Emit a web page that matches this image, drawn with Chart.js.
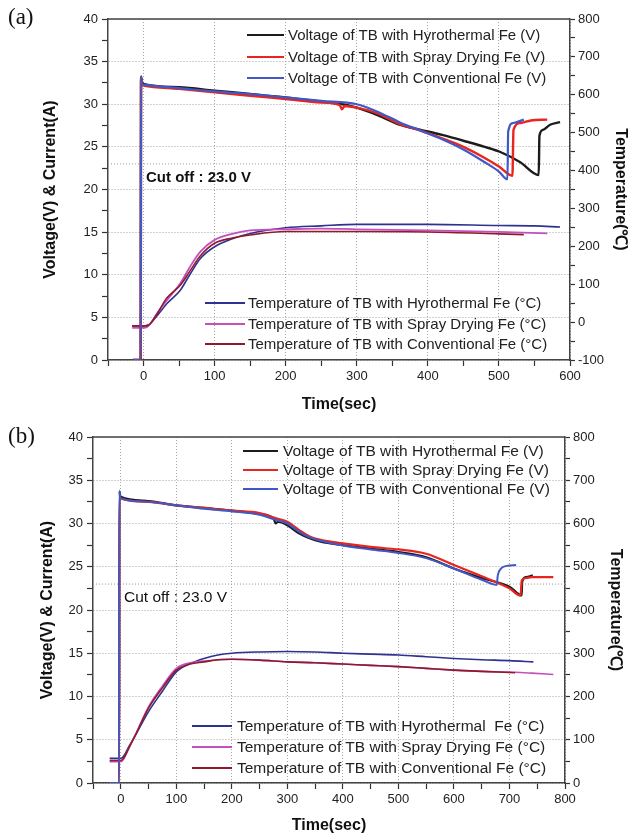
<!DOCTYPE html>
<html>
<head>
<title>Thermal battery discharge</title>
<script src="https://cdn.jsdelivr.net/npm/chart.js"></script>
<style>
    body {
        margin: 0;
        width: 636px;
        height: 838px;
        position: relative;
        overflow: hidden;
        background: #fff;
        font-family: 'Liberation Sans', Arial, sans-serif;
    }
    canvas { position: absolute; left: 0; }
    #chartA { top: 0; }
    #chartB { top: 420px; }
    .tag {
        position: absolute;
        font-family: 'Liberation Serif', 'Times New Roman', serif;
        font-size: 23px;
        line-height: 1;
        color: #111;
    }
    .note {
        position: absolute;
        font-size: 15px;
        line-height: 18px;
        color: #111;
        white-space: nowrap;
    }
    .legend-row {
        position: absolute;
        height: 20px;
        line-height: 20px;
        font-size: 15px;
        color: #222;
        white-space: pre;
    }
    .legend-row .swatch { position: absolute; left: 0; }
</style>
</head>
<body>
<canvas id="chartA" width="636" height="415"></canvas>
<canvas id="chartB" width="636" height="418"></canvas>
<div class="tag" style="left:8px;top:5px;">(a)</div>
<div class="tag" style="left:8px;top:424px;">(b)</div>
<div class="note" style="left:146px;top:168px;font-weight:bold;">Cut off : 23.0 V</div>
<div class="note" style="left:124px;top:588px;font-size:15.5px;">Cut off : 23.0 V</div>
<script>
    const CUT_OFF = 23.0;

    const voltLabels = ['Voltage of TB with Hyrothermal Fe (V)', 'Voltage of TB with Spray Drying Fe (V)', 'Voltage of TB with Conventional Fe (V)'];
    const tempLabelsA = ['Temperature of TB with Hyrothermal Fe (°C)', 'Temperature of TB with Spray Drying Fe (°C)', 'Temperature of TB with Conventional Fe (°C)'];
    const tempLabelsB = ['Temperature of TB with Hyrothermal  Fe (°C)', 'Temperature of TB with Spray Drying Fe (°C)', 'Temperature of TB with Conventional Fe (°C)'];

    // panel (a) voltage, sec / V
    const aHyroVT = [-15, -4, -3.5, -2, 0, 50, 100, 150, 200, 250, 280, 300, 330, 360, 390, 420, 455, 480, 502, 530, 556, 557, 562, 572, 586];
    const aHyroV = [0, 0, 33.2, 32.6, 32.4, 32.0, 31.6, 31.2, 30.8, 30.3, 30.0, 29.6, 28.7, 27.6, 27.0, 26.4, 25.6, 25.0, 24.4, 23.2, 21.7, 26.3, 27.0, 27.6, 27.9];
    const aSprayVT = [-15, -4, -3.5, -2, 0, 50, 100, 150, 200, 250, 276, 279, 283, 300, 330, 360, 390, 420, 450, 480, 500, 519, 520.5, 530, 545, 568];
    const aSprayV = [0, 0, 33.0, 32.3, 32.2, 31.8, 31.4, 31.0, 30.6, 30.2, 29.9, 29.4, 29.8, 29.6, 28.9, 27.7, 26.9, 26.0, 25.0, 23.7, 22.7, 21.6, 27.0, 27.8, 28.1, 28.2];
    const aConvVT = [-15, -4, -3.5, -2, 0, 50, 100, 150, 200, 250, 300, 330, 360, 390, 420, 450, 480, 500, 512, 513, 520, 535];
    const aConvV = [0, 0, 33.3, 32.4, 32.3, 31.9, 31.5, 31.2, 30.8, 30.4, 30.0, 29.1, 27.9, 26.9, 25.9, 24.7, 23.2, 22.1, 21.2, 26.8, 27.8, 28.2];

    // panel (a) temperature, sec / °C
    const aHyroTT = [-16, 0, 5, 10, 20, 33, 52, 65, 80, 100, 125, 150, 200, 250, 300, 400, 500, 550, 586];
    const aHyroT = [-10, -10, -8, -3, 19, 49, 85, 125, 168, 199, 220, 234, 249, 254, 258, 258, 255, 254, 251];
    const aSprayTT = [-16, 0, 5, 10, 20, 33, 52, 65, 80, 100, 125, 150, 200, 250, 300, 400, 500, 568];
    const aSprayT = [-15, -15, -13, -3, 26, 58, 103, 145, 186, 217, 233, 242, 245, 247, 245, 242, 238, 234];
    const aConvTT = [-16, 0, 5, 10, 20, 28, 33, 52, 65, 80, 100, 125, 150, 200, 300, 400, 500, 535];
    const aConvT = [-10, -10, -10, -3, 24, 50, 64, 98, 134, 175, 208, 222, 230, 239, 239, 238, 233, 231];

    // panel (b) voltage
    const bHyroVT = [-20, -3, -2.5, -1, 0, 50, 100, 150, 200, 250, 275, 279, 283, 300, 320, 340, 360, 400, 450, 500, 550, 600, 650, 700, 722, 723, 730, 742];
    const bHyroV = [0, 0, 33.7, 33.2, 33.1, 32.6, 32.1, 31.8, 31.5, 31.1, 30.6, 30.0, 30.2, 29.8, 28.9, 28.3, 27.9, 27.5, 27.1, 26.7, 26.1, 24.8, 23.7, 22.7, 21.7, 23.3, 23.8, 24.0];
    const bSprayVT = [-20, -3, -2.5, -1, 0, 50, 100, 150, 200, 250, 280, 300, 320, 340, 360, 400, 450, 500, 550, 600, 650, 700, 720, 722, 730, 740, 779];
    const bSprayV = [0, 0, 33.4, 33.0, 32.9, 32.5, 32.1, 31.8, 31.5, 31.2, 30.6, 30.2, 29.3, 28.5, 28.1, 27.7, 27.3, 27.0, 26.5, 25.2, 23.9, 22.5, 21.65, 23.4, 23.7, 23.8, 23.8];
    const bConvVT = [-20, -3, -2.5, -1, 0, 50, 100, 150, 200, 250, 280, 300, 320, 340, 360, 400, 450, 500, 550, 600, 650, 677, 679, 685, 695, 712];
    const bConvV = [0, 0, 33.8, 33.0, 32.9, 32.5, 32.1, 31.7, 31.4, 31.0, 30.4, 30.0, 29.1, 28.4, 28.0, 27.45, 27.0, 26.6, 26.0, 24.8, 23.5, 22.9, 24.0, 24.8, 25.1, 25.2];

    // panel (b) temperature
    const bHyroTT = [-20, 0, 5, 15, 25, 50, 75, 100, 125, 150, 175, 200, 250, 300, 350, 400, 450, 500, 550, 600, 650, 700, 743];
    const bHyroT = [57, 57, 62, 85, 107, 165, 212, 257, 276, 288, 296, 300, 303, 304, 303, 300, 298, 296, 292, 288, 285, 283, 280];
    const bSprayTT = [-20, 0, 5, 15, 25, 50, 75, 100, 125, 150, 200, 250, 300, 350, 400, 450, 500, 550, 600, 650, 710, 740, 779];
    const bSprayT = [49, 49, 55, 82, 108, 176, 224, 265, 278, 282, 286, 284, 280, 278, 275, 272, 269, 265, 261, 258, 256, 254, 251];
    const bConvTT = [-20, 0, 5, 15, 25, 50, 75, 100, 125, 150, 175, 200, 250, 300, 350, 400, 450, 500, 550, 600, 650, 710];
    const bConvT = [52, 52, 57, 82, 107, 173, 220, 261, 275, 280, 285, 286, 284, 280, 278, 275, 272, 269, 265, 261, 258, 255];

    const voltColors = ['#1c1c1c', '#e8251f', '#4158c6'];
    const tempColors = ['#2d3290', '#c64fc0', '#8e1b2b'];

    const pts = (ts, vs) => ts.map((t, i) => ({ x: t, y: vs[i] }));

    function lineSet(label, ts, vs, color, width, axis, order) {
        return {
            label: label,
            data: pts(ts, vs),
            borderColor: color,
            borderWidth: width,
            pointRadius: 0,
            cubicInterpolationMode: 'monotone',
            yAxisID: axis,
            order: order
        };
    }

    const frameTop = {
        id: 'frameTop',
        afterDraw(chart) {
            const a = chart.chartArea, ctx = chart.ctx;
            ctx.save();
            ctx.strokeStyle = '#444';
            ctx.lineWidth = 1.5;
            ctx.beginPath();
            ctx.moveTo(a.left, a.top);
            ctx.lineTo(a.right, a.top);
            ctx.stroke();
            ctx.restore();
        }
    };

    const tickFont = { family: "'Liberation Sans', Arial, sans-serif", size: 13 };
    const titleFont = { family: "'Liberation Sans', Arial, sans-serif", size: 16, weight: 'bold' };
    const majorOf = (step) => (v) => Math.abs(v % step) < 1e-9;

    function makePanel(id, p) {
        const xMajor = majorOf(100), yMajor = majorOf(5), rMajor = majorOf(100);
        const cutSet = {
            label: 'cut',
            data: [{ x: -50, y: CUT_OFF }, { x: p.xMax, y: CUT_OFF }],
            borderColor: '#9a9a9a',
            borderWidth: 1,
            borderDash: [1, 2],
            pointRadius: 0,
            yAxisID: 'y',
            order: 20
        };
        return new Chart(document.getElementById(id), {
            type: 'line',
            data: { datasets: p.datasets.concat([cutSet]) },
            plugins: [frameTop],
            options: {
                responsive: false,
                animation: false,
                layout: { padding: { top: p.top, left: 0, right: 0, bottom: 0 } },
                plugins: { legend: { display: false }, tooltip: { enabled: false } },
                scales: {
                    x: {
                        type: 'linear',
                        min: -50,
                        max: p.xMax,
                        afterFit: s => { s.height = 55; },
                        ticks: {
                            stepSize: 50,
                            autoSkip: false,
                            maxRotation: 0,
                            padding: 3,
                            color: '#222',
                            font: tickFont,
                            callback: v => xMajor(v) ? v : ''
                        },
                        grid: {
                            color: c => xMajor(c.tick.value) ? '#a5a5a5' : 'rgba(0,0,0,0)',
                            lineWidth: 1,
                            tickColor: '#333',
                            tickWidth: 1.2,
                            tickLength: 6,
                            tickBorderDash: []
                        },
                        border: { color: '#444', width: 1.5, dash: [1, 2] },
                        title: { display: true, text: 'Time(sec)', color: '#111', font: titleFont, padding: { top: 0, bottom: p.xTitlePad } }
                    },
                    y: {
                        position: 'left',
                        min: 0,
                        max: 40,
                        afterFit: s => { s.width = p.leftW; },
                        ticks: {
                            stepSize: 2.5,
                            autoSkip: false,
                            padding: 4,
                            color: '#222',
                            font: tickFont,
                            callback: v => yMajor(v) ? v : ''
                        },
                        grid: {
                            color: c => yMajor(c.tick.value) ? '#a5a5a5' : 'rgba(0,0,0,0)',
                            lineWidth: 1,
                            tickColor: '#333',
                            tickWidth: 1.2,
                            tickLength: 6,
                            tickBorderDash: []
                        },
                        border: { color: '#444', width: 1.5, dash: [1, 2] },
                        title: { display: true, text: 'Voltage(V) & Current(A)', color: '#111', font: titleFont, padding: { top: p.leftTitlePad, bottom: 0 } }
                    },
                    y2: {
                        position: 'right',
                        min: p.rMin,
                        max: 800,
                        afterFit: s => { s.width = 636 - p.right; },
                        ticks: {
                            stepSize: 50,
                            autoSkip: false,
                            padding: 3,
                            color: '#222',
                            font: tickFont,
                            callback: v => rMajor(v) ? v : ''
                        },
                        grid: {
                            drawOnChartArea: false,
                            tickColor: '#333',
                            tickWidth: 1.2,
                            tickLength: 5
                        },
                        border: { color: '#444', width: 1.5 },
                        title: { display: true, text: 'Temperature(℃)', color: '#111', font: titleFont, padding: { top: p.rightTitlePad, bottom: 0 } }
                    }
                }
            }
        });
    }

    function drawLegend(datasets, x0, lineLen, gap, rowYs, fontSize) {
        datasets.forEach((ds, i) => {
            const h = Math.max(2, Math.round(ds.borderWidth));
            const row = document.createElement('div');
            row.className = 'legend-row';
            row.style.left = x0 + 'px';
            row.style.top = (rowYs[i] - 10) + 'px';
            row.style.fontSize = fontSize + 'px';
            const sw = document.createElement('span');
            sw.className = 'swatch';
            sw.style.width = lineLen + 'px';
            sw.style.height = h + 'px';
            sw.style.top = Math.round(10 - h / 2) + 'px';
            sw.style.background = ds.borderColor;
            const txt = document.createElement('span');
            txt.textContent = ds.label;
            txt.style.marginLeft = (lineLen + gap) + 'px';
            row.append(sw, txt);
            document.body.appendChild(row);
        });
    }

    // panel (a)
    const voltA = [
        lineSet(voltLabels[0], aHyroVT, aHyroV, voltColors[0], 2.4, 'y', 3),
        lineSet(voltLabels[1], aSprayVT, aSprayV, voltColors[1], 2.4, 'y', 2),
        lineSet(voltLabels[2], aConvVT, aConvV, voltColors[2], 2.2, 'y', 1)
    ];
    const tempA = [
        lineSet(tempLabelsA[0], aHyroTT, aHyroT, tempColors[0], 1.6, 'y2', 6),
        lineSet(tempLabelsA[1], aSprayTT, aSprayT, tempColors[1], 1.8, 'y2', 5),
        lineSet(tempLabelsA[2], aConvTT, aConvT, tempColors[2], 1.6, 'y2', 4)
    ];
    makePanel('chartA', {
        datasets: voltA.concat(tempA),
        xMax: 600, rMin: -100, top: 19, leftW: 108, right: 570,
        xTitlePad: 1, leftTitlePad: 41, rightTitlePad: 6
    });
    drawLegend(voltA, 247, 37, 4, [35, 56.5, 78], 15);
    drawLegend(tempA, 205, 40, 3, [303, 323.5, 344], 15);

    // panel (b)
    const voltB = [
        lineSet(voltLabels[0], bHyroVT, bHyroV, voltColors[0], 2.2, 'y', 3),
        lineSet(voltLabels[1], bSprayVT, bSprayV, voltColors[1], 2.2, 'y', 2),
        lineSet(voltLabels[2], bConvVT, bConvV, voltColors[2], 2, 'y', 1)
    ];
    const tempB = [
        lineSet(tempLabelsB[0], bHyroTT, bHyroT, tempColors[0], 1.6, 'y2', 6),
        lineSet(tempLabelsB[1], bSprayTT, bSprayT, tempColors[1], 1.6, 'y2', 5),
        lineSet(tempLabelsB[2], bConvTT, bConvT, tempColors[2], 1.6, 'y2', 4)
    ];
    makePanel('chartB', {
        datasets: voltB.concat(tempB),
        xMax: 800, rMin: 0, top: 17, leftW: 93, right: 565,
        xTitlePad: 2.4, leftTitlePad: 38, rightTitlePad: 11
    });
    drawLegend(voltB, 243, 35, 5, [451, 470, 489], 15.5);
    drawLegend(tempB, 192, 40, 5, [726, 746.5, 767.5], 15.5);
</script>
</body>
</html>
